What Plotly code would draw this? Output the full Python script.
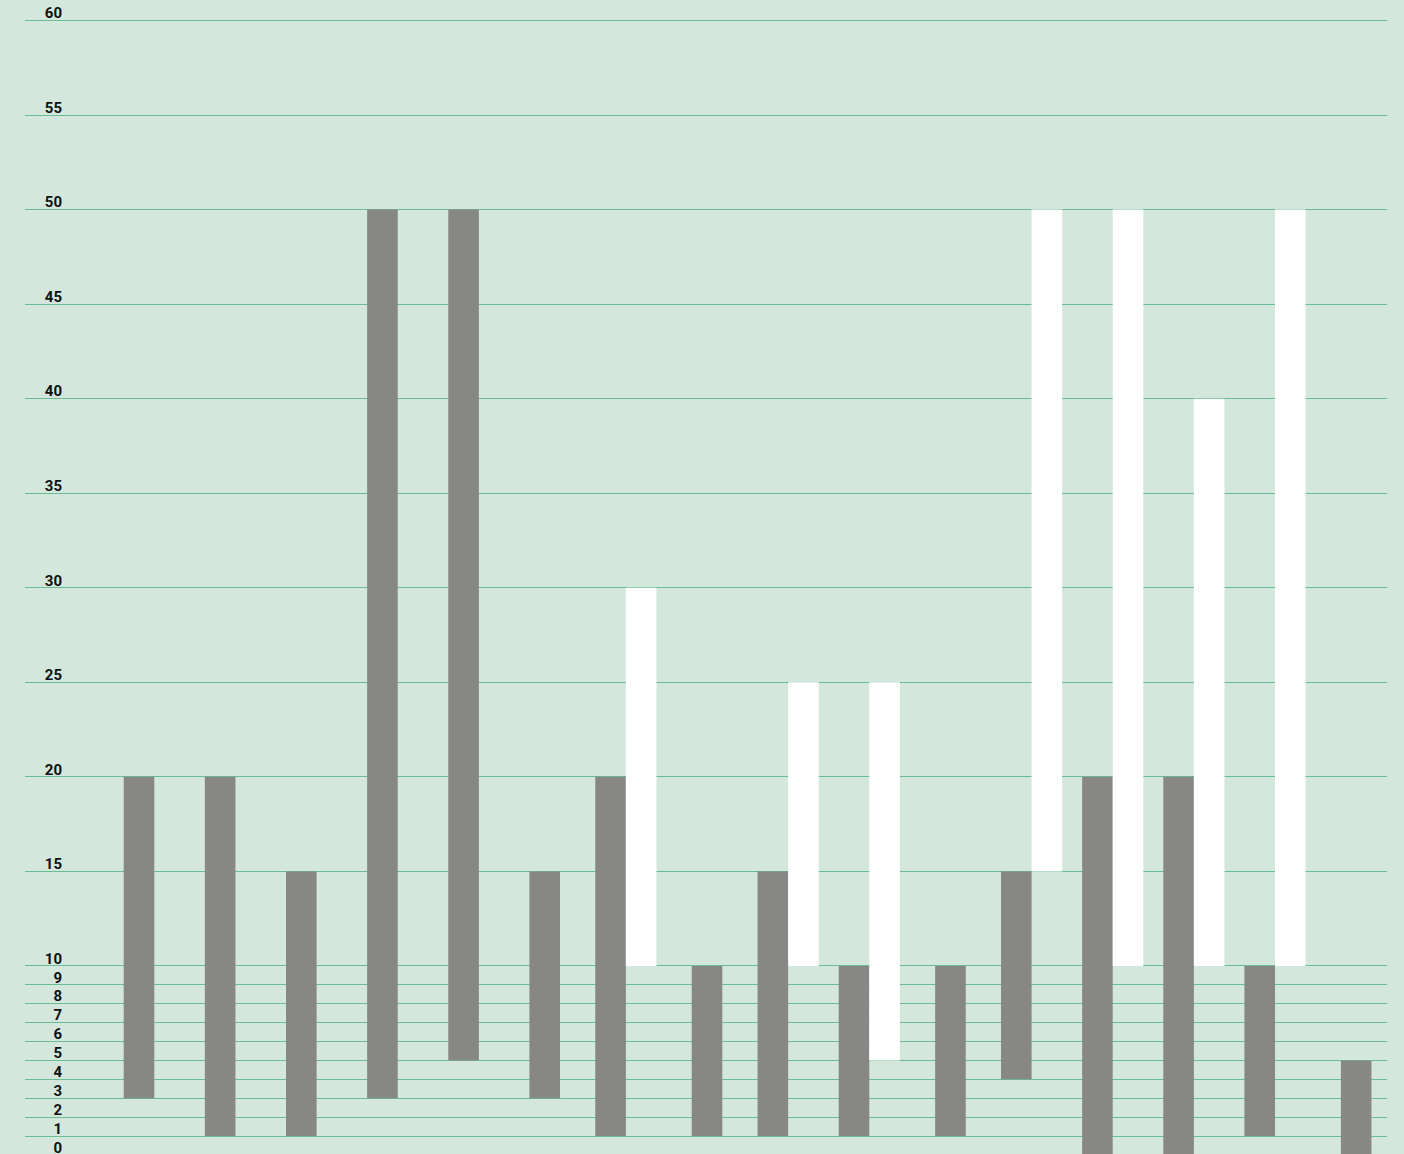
import plotly.graph_objects as go

# ---- data ----
categories = list(range(16))
gray_low = [3, 1, 1, 3, 5, 3, 1, 1, 1, 1, 1, 4, 0, 0, 1, 0]
gray_high = [20, 20, 15, 50, 50, 15, 20, 10, 15, 10, 10, 15, 20, 20, 10, 5]
white_cats = [6, 8, 9, 11, 12, 13, 14]
white_low = [10, 10, 5, 15, 10, 10, 10]
white_high = [30, 25, 25, 50, 50, 40, 50]
tick_vals = [0, 1, 2, 3, 4, 5, 6, 7, 8, 9, 10, 15, 20, 25, 30, 35, 40, 45, 50, 55, 60]
tick_text = [str(v) for v in tick_vals]

# ---- style ----
BG = "#d4e7dc"
GRID = "#68bd94"
GRAY = "#878786"
BAR_W = 0.377

gray_offset = [(-BAR_W if c in white_cats else -BAR_W / 2) for c in categories]

fig = go.Figure()
fig.add_trace(go.Bar(
    x=categories,
    y=[h - l for h, l in zip(gray_high, gray_low)],
    base=gray_low,
    width=BAR_W,
    offset=gray_offset,
    marker=dict(color=GRAY, line=dict(width=0)),
    showlegend=False,
    hoverinfo="skip",
))
fig.add_trace(go.Bar(
    x=white_cats,
    y=[h - l for h, l in zip(white_high, white_low)],
    base=white_low,
    width=BAR_W,
    offset=0,
    marker=dict(color="#ffffff", line=dict(width=0)),
    showlegend=False,
    hoverinfo="skip",
))
# empty trace so the label axis is drawn
fig.add_trace(go.Scatter(x=[None], y=[None], yaxis="y2", showlegend=False,
                         hoverinfo="skip", mode="markers"))

yrange = [-0.264, 61.084]
fig.update_layout(
    width=1404, height=1160,
    margin=dict(l=0, r=0, t=0, b=0),
    paper_bgcolor=BG, plot_bgcolor=BG,
    barmode="overlay",
    xaxis=dict(domain=[25 / 1404, 1387 / 1404], range=[-1.405, 15.38],
               showgrid=False, zeroline=False, showticklabels=False,
               ticks="", showline=False),
    yaxis=dict(range=yrange, tickmode="array", tickvals=tick_vals,
               showgrid=True, gridcolor=GRID, gridwidth=1,
               zeroline=False, showticklabels=False, ticks="", showline=False),
    yaxis2=dict(range=yrange, overlaying="y", anchor="free", side="left",
                position=62 / 1404, tickmode="array", tickvals=tick_vals,
                ticktext=tick_text, ticklabelposition="outside top",
                ticklabelshift=3,
                showgrid=False, zeroline=False, showline=False, ticks="",
                tickfont=dict(family="Roboto", size=15, color="#111111",
                              weight=700)),
)

fig.write_html("out.html",
               config={"displayModeBar": False},
               post_script="document.body.style.margin='0px';"
                           "document.body.style.overflow='hidden';"
                           "document.body.style.background='" + BG + "';")
